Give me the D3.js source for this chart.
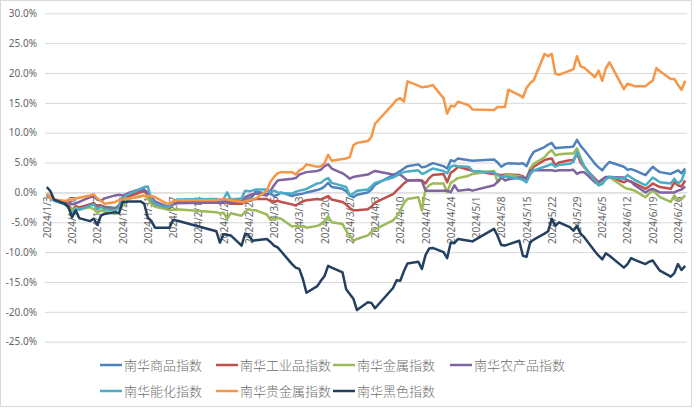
<!DOCTYPE html>
<html>
<head>
<meta charset="utf-8">
<script src="https://cdn.jsdelivr.net/npm/d3@7"></script>
<style>
body{margin:0;background:#fff;}
text{font-family:"Noto Sans CJK SC","Noto Sans",sans-serif;fill:#595959;}
</style>
</head>
<body>
<div class="chart_line"></div>
<script>
// trading days: weekdays 2024/1/3 - 2024/6/28, minus exchange holidays
var startDay = "2024-01-03", endDay = "2024-06-28";
var holidays = ["2024-02-09","2024-02-12","2024-02-13","2024-02-14","2024-02-15","2024-02-16",
  "2024-04-04","2024-04-05","2024-05-01","2024-05-02","2024-05-03","2024-06-10"];

var seriesNames = ["南华商品指数","南华工业品指数","南华金属指数","南华农产品指数","南华能化指数","南华贵金属指数","南华黑色指数"];
var seriesColors = ["#4F81BD","#C0504D","#9BBB59","#8064A2","#4BACC6","#F79646","#243F60"];

// values in %
var commodity = [-0.3,-0.8,-1.2,-1.8,-2.2,-3.2,-2.4,-2.6,-2.0,-1.8,
  -2.5,-2.2,-2.4,-2.6,-2.2,-0.9,-0.6,-0.3,0.3,0.5,
  -0.5,-1.6,-2.0,-2.6,-2.6,-1.8,-1.4,-1.2,-1.5,-1.3,
  -1.3,-1.4,-1.5,-1.3,-1.0,-0.7,0.2,-0.3,-0.2,-0.6,
  -0.4,0.0,-0.6,-0.4,-0.3,-0.2,0.0,0.4,0.6,1.0,
  1.6,0.9,0.6,0.2,-0.5,-0.8,-0.4,0.0,0.5,1.3,
  2.9,3.2,3.6,4.0,4.4,4.7,4.2,4.3,4.6,4.9,
  4.4,4.0,5.4,5.2,5.7,5.4,5.3,5.5,5.0,4.3,
  4.7,4.9,4.8,4.9,4.4,5.8,6.8,7.6,8.0,8.3,
  7.4,7.5,7.6,7.7,8.8,7.8,7.1,4.8,4.2,3.7,
  4.5,5.1,4.3,3.8,3.9,3.7,2.9,3.6,4.3,3.8,
  3.4,3.1,3.4,3.7,3.2,4.0];
var industrial = [-0.5,-0.9,-1.3,-1.8,-2.0,-3.0,-2.3,-2.5,-2.0,-1.8,
  -2.3,-2.2,-2.6,-2.8,-2.3,-1.2,-0.8,-0.6,0.0,0.2,
  -0.3,-1.6,-2.1,-2.6,-2.6,-2.0,-1.7,-1.6,-1.8,-1.7,
  -1.7,-1.9,-1.9,-1.6,-1.4,-1.2,-1.1,-1.1,-1.4,-1.6,
  -1.4,-1.6,-2.0,-2.2,-1.8,-1.5,-1.3,-1.1,-1.2,-0.9,
  -0.6,-1.2,-1.6,-2.0,-2.6,-3.0,-3.0,-2.8,-2.4,-1.7,
  -0.3,0.3,0.9,1.5,2.0,2.1,2.0,1.5,2.4,2.9,
  3.1,1.7,3.3,3.7,4.3,3.8,3.6,3.1,3.0,2.9,
  3.0,3.0,2.9,2.7,2.3,3.7,4.3,5.4,5.6,5.7,
  4.5,5.0,5.4,5.4,6.5,5.0,4.2,2.3,1.7,1.9,
  2.3,2.6,1.7,2.0,1.8,1.5,0.6,1.0,1.5,1.2,
  0.9,0.6,1.7,1.2,1.0,2.0];
var metals = [-0.3,-0.8,-1.3,-2.0,-2.3,-3.0,-2.6,-2.8,-2.5,-2.8,
  -3.4,-3.0,-3.2,-3.6,-3.3,-2.2,-1.5,-1.0,-0.6,-0.5,
  -1.0,-2.0,-2.4,-2.8,-3.0,-2.9,-2.8,-3.3,-3.5,-3.4,
  -4.4,-3.5,-3.9,-3.2,-2.8,-3.0,-3.0,-3.7,-4.6,-4.5,
  -4.3,-4.4,-5.7,-5.6,-5.8,-5.6,-5.9,-5.6,-5.3,-4.8,
  -4.0,-5.0,-5.3,-6.4,-7.2,-8.1,-7.8,-7.2,-6.6,-6.2,
  -4.7,-4.0,-3.0,-1.8,-1.1,-0.8,-3.0,0.6,1.2,1.5,
  1.5,0.0,1.6,2.0,2.4,2.8,3.1,3.6,1.7,2.3,
  2.9,2.9,2.7,2.5,2.3,4.0,4.8,5.9,6.6,7.1,
  6.2,6.4,6.5,6.5,7.4,5.8,4.3,1.7,1.2,1.7,
  2.3,2.6,0.9,0.6,0.5,0.3,-0.8,-0.2,0.3,-0.2,
  -0.8,-1.6,-0.5,-1.3,-1.1,-0.5];
var agri = [-0.3,-0.8,-1.2,-1.6,-1.5,-2.0,-1.8,-1.6,-0.8,-0.6,
  -1.2,-1.4,-1.0,-0.5,-0.4,-0.5,-0.3,0.0,0.6,0.4,
  0.0,-0.8,-1.5,-2.3,-2.3,-2.0,-1.8,-1.7,-1.8,-1.6,
  -1.6,-1.7,-1.5,-0.8,-0.5,-0.3,-0.2,-0.5,0.3,1.2,
  2.0,2.1,2.3,2.4,3.0,3.2,3.4,3.6,3.8,4.4,
  4.7,4.0,3.2,2.8,2.3,2.6,2.7,3.0,3.3,3.6,
  3.0,2.9,3.0,2.5,2.0,2.0,1.9,0.3,0.3,0.3,
  0.3,0.3,0.0,1.2,0.3,0.5,0.3,1.2,1.8,2.6,
  2.0,2.2,2.5,2.5,2.3,3.7,3.7,3.7,3.7,3.7,
  3.6,3.7,3.7,3.8,3.1,3.4,3.4,1.7,1.7,2.2,
  2.6,2.6,2.5,2.0,1.8,1.2,0.0,0.4,0.6,0.3,
  0.0,0.0,0.0,0.3,0.5,1.0];
var energyChem = [-0.5,-1.0,-1.4,-2.0,-2.6,-3.6,-2.8,-2.9,-2.2,-2.0,
  -2.8,-2.4,-2.8,-3.0,-2.5,-1.0,-0.5,-0.2,0.6,0.9,
  1.0,-1.2,-1.9,-2.5,-2.4,-1.6,-1.2,-1.1,-1.3,-1.1,
  0.0,-1.2,-1.0,0.3,0.2,0.3,0.5,0.5,0.0,0.3,
  0.0,-0.1,-0.2,0.1,0.3,0.4,0.6,1.5,1.6,2.1,
  2.4,1.6,1.1,0.9,-0.5,-0.2,0.3,0.5,1.0,1.6,
  2.5,2.8,3.2,3.4,3.5,3.7,3.1,3.3,3.7,4.0,
  3.6,3.2,4.3,4.5,4.4,4.3,3.6,3.4,2.9,2.6,
  2.7,2.6,2.3,2.1,1.7,3.0,3.7,4.3,4.5,4.8,
  4.3,4.6,4.8,5.1,6.8,5.5,4.4,2.0,1.2,1.4,
  2.2,2.6,2.3,2.9,2.5,2.1,1.2,1.8,2.5,2.1,
  1.7,1.5,2.3,1.5,2.0,3.6];
var precious = [-0.2,-0.9,-1.2,-1.4,-1.3,-1.2,-1.0,-0.9,-0.5,-0.3,
  -1.0,-1.4,-1.9,-1.6,-1.3,-1.2,-1.0,-1.0,-0.7,-0.5,
  -0.6,-0.6,-0.8,-1.8,-1.9,-1.5,-1.3,-1.3,-1.2,-1.1,
  -1.2,-1.3,-1.6,-1.5,-1.3,-1.2,-1.0,0.3,1.8,2.6,
  3.2,3.4,3.4,3.0,3.7,4.0,4.7,4.3,4.4,4.9,
  6.3,5.3,5.6,5.7,5.9,7.9,8.3,8.6,9.3,11.5,
  14.8,15.5,15.8,15.2,18.6,17.9,17.6,17.7,17.8,18.0,
  15.8,13.2,14.5,14.4,15.2,14.6,13.9,13.8,14.3,14.3,
  14.3,17.2,16.3,15.9,17.5,18.3,18.8,23.2,22.8,23.2,
  19.9,19.7,20.4,20.6,22.8,21.1,20.9,19.3,20.4,18.7,
  20.8,21.8,17.3,18.2,18.0,17.8,17.8,18.3,18.7,20.8,
  20.3,19.0,19.0,18.0,17.2,18.7];
var ferrous = [0.9,0.2,-1.2,-1.9,-2.4,-4.2,-3.0,-4.3,-4.8,-4.4,
  -5.4,-3.9,-3.6,-3.3,-3.5,-1.6,-1.6,-1.5,-1.5,-1.9,
  -4.2,-4.8,-5.9,-5.9,-5.9,-4.6,-4.7,-6.5,-8.4,-7.0,
  -7.1,-7.2,-8.9,-6.9,-7.2,-8.1,-8.0,-7.8,-8.3,-8.9,
  -9.2,-9.9,-12.0,-12.6,-12.8,-14.5,-16.8,-15.7,-14.8,-14.0,
  -12.3,-12.6,-13.4,-16.2,-17.0,-17.8,-19.7,-18.4,-18.5,-19.4,
  -16.0,-14.7,-14.8,-13.2,-11.9,-11.6,-12.8,-10.5,-9.4,-9.3,
  -10.0,-11.0,-8.4,-8.5,-7.8,-8.1,-8.2,-6.1,-7.3,-8.8,
  -8.9,-8.7,-8.1,-10.6,-10.8,-8.4,-7.9,-6.9,-6.5,-4.4,
  -5.6,-5.0,-5.8,-6.4,-5.6,-6.9,-7.5,-9.9,-10.6,-11.2,
  -10.2,-10.6,-12.6,-12.0,-11.0,-11.3,-12.0,-11.6,-11.4,-12.3,
  -13.1,-14.1,-13.5,-12.0,-13.0,-12.3];

var yTicks = [-25,-20,-15,-10,-5,0,5,10,15,20,25,30];

function drawChart(_cls){
  var cls = _cls || '.chart_line';
  var W = 700, H = 408;
  var plot = {left:45, right:687, top:13.3, bottom:341.7};

  var parse = d3.timeParse("%Y-%m-%d");
  var fmtKey = d3.timeFormat("%Y-%m-%d");
  var days = d3.timeDay.range(parse(startDay), d3.timeDay.offset(parse(endDay),1))
    .filter(function(d){ return d.getDay()!=0 && d.getDay()!=6 && holidays.indexOf(fmtKey(d))<0; });

  var allSeries = [commodity, industrial, metals, agri, energyChem, precious, ferrous];

  d3.select(cls).selectAll("*").remove();
  var svg = d3.select(cls).append("svg")
    .attr("width",W).attr("height",H);

  svg.append("rect")
    .attr("x",0.5).attr("y",0.5).attr("width",W-9).attr("height",H-2)
    .attr("fill","#fff").attr("stroke","#d9d9d9");

  // date axis, half a day of padding each side
  var xScale = d3.scaleTime()
    .domain([d3.timeHour.offset(parse(startDay),-12), d3.timeHour.offset(parse(endDay),12)])
    .range([plot.left, plot.right]);
  var yScale = d3.scaleLinear()
    .domain([-25,30])
    .range([plot.bottom, plot.top]);

  // grid + y labels
  var yAxis = svg.append("g")
    .attr("class","y axis")
    .attr("transform","translate("+plot.left+",0)")
    .call(d3.axisLeft(yScale).tickValues(yTicks).tickSize(-(plot.right-plot.left)).tickPadding(8)
      .tickFormat(function(d){ return d.toFixed(1)+"%"; }));
  yAxis.select(".domain").remove();
  yAxis.selectAll("line").attr("stroke","#d9d9d9").attr("stroke-width",1);
  yAxis.selectAll("text").attr("font-size","10px").style("fill","#666")
    .style("font-family","'Noto Sans',sans-serif");

  // x labels sit under the 0% line
  var xTicks = d3.timeWednesday.range(parse(startDay), d3.timeDay.offset(parse(endDay),1));
  var xAxis = svg.append("g")
    .attr("class","x axis")
    .attr("transform","translate(0,"+yScale(0)+")")
    .call(d3.axisBottom(xScale).tickValues(xTicks).tickSize(0).tickFormat(d3.timeFormat("%Y/%-m/%-d")));
  xAxis.select(".domain").attr("stroke","#d9d9d9");
  xAxis.selectAll("text")
    .attr("font-size","10px")
    .style("fill","#666")
    .style("font-family","'Noto Sans',sans-serif")
    .attr("text-anchor","end")
    .attr("transform","rotate(-90)")
    .attr("x",-4).attr("y",0).attr("dy","0.35em");

  var line = d3.line()
    .x(function(d,i){ return xScale(days[i]); })
    .y(function(d){ return yScale(d); });

  svg.selectAll(".series")
    .data(allSeries)
    .enter().append("path")
    .attr("class","series")
    .attr("fill","none")
    .attr("stroke",function(d,i){ return seriesColors[i]; })
    .attr("stroke-width",2.5)
    .attr("stroke-linejoin","round")
    .attr("d",line);

  // legend, two rows
  var legendPos = [[100,365],[216,365],[333,365],[450,365],[100,391],[216,391],[333,391]];
  var legend = svg.selectAll(".legend")
    .data(seriesNames)
    .enter().append("g")
    .attr("class","legend")
    .attr("transform",function(d,i){ return "translate("+legendPos[i][0]+","+legendPos[i][1]+")"; });
  legend.append("line")
    .attr("x1",0).attr("x2",22).attr("y1",0).attr("y2",0)
    .attr("stroke",function(d,i){ return seriesColors[i]; })
    .attr("stroke-width",2.5);
  legend.append("text")
    .attr("x",24).attr("y",0).attr("dy","0.35em")
    .attr("font-size","13px")
    .style("fill","#6e6e6e")
    .style("font-weight","300")
    .text(function(d){ return d; });
}

drawChart('.chart_line');
</script>
</body>
</html>
